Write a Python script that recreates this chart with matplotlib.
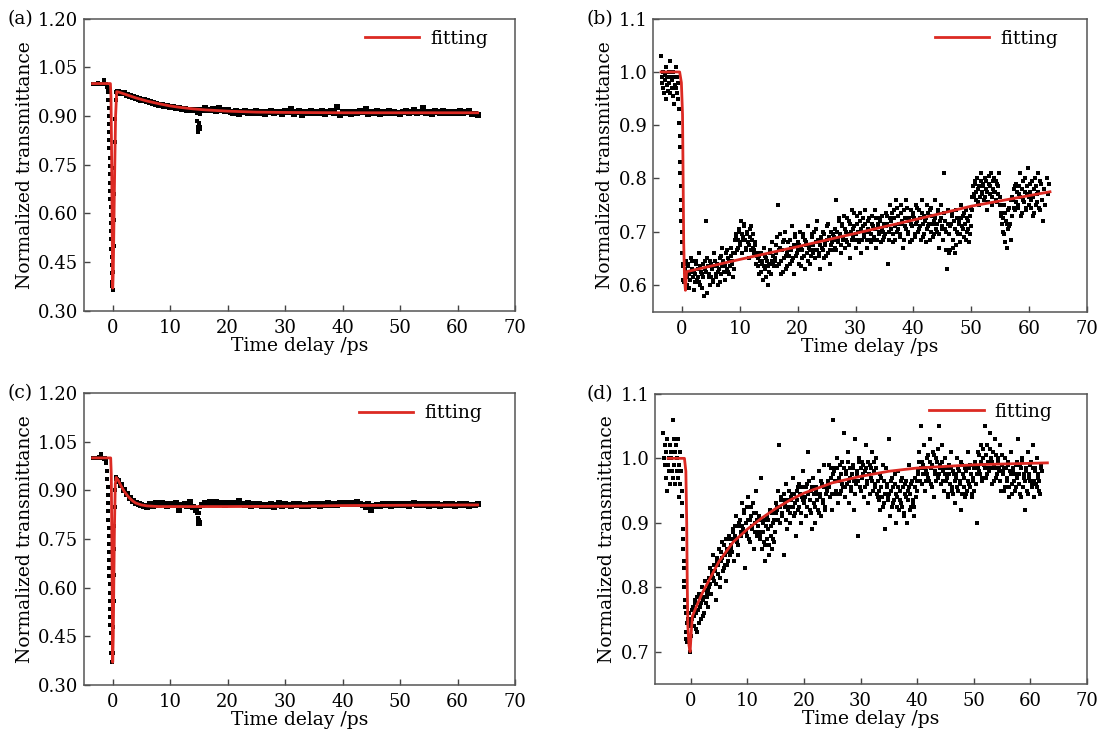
"""
Normalized transmittance vs time delay, four panels (a)-(d)
"""

import numpy as np
import matplotlib
matplotlib.use("Agg")
import matplotlib.pyplot as plt
from matplotlib.ticker import FormatStrFormatter

plt.rcParams['font.family'] = ['DejaVu Serif']

RED = '#dc2a23'

# ---------------- panel (a) / (c): dense traces -----------------
t_dense = [
    1.0, 1.5, 2.0, 2.5, 3.0, 3.5, 4.0, 4.5, 5.0, 5.5,
    6.0, 6.5, 7.0, 7.5, 8.0, 8.5, 9.0, 9.5, 10.0, 10.5,
    11.0, 11.5, 12.0, 12.5, 13.0, 13.5, 14.0, 14.5, 15.0, 15.5,
    16.0, 16.5, 17.0, 17.5, 18.0, 18.5, 19.0, 19.5, 20.0, 20.5,
    21.0, 21.5, 22.0, 22.5, 23.0, 23.5, 24.0, 24.5, 25.0, 25.5,
    26.0, 26.5, 27.0, 27.5, 28.0, 28.5, 29.0, 29.5, 30.0, 30.5,
    31.0, 31.5, 32.0, 32.5, 33.0, 33.5, 34.0, 34.5, 35.0, 35.5,
    36.0, 36.5, 37.0, 37.5, 38.0, 38.5, 39.0, 39.5, 40.0, 40.5,
    41.0, 41.5, 42.0, 42.5, 43.0, 43.5, 44.0, 44.5, 45.0, 45.5,
    46.0, 46.5, 47.0, 47.5, 48.0, 48.5, 49.0, 49.5, 50.0, 50.5,
    51.0, 51.5, 52.0, 52.5, 53.0, 53.5, 54.0, 54.5, 55.0, 55.5,
    56.0, 56.5, 57.0, 57.5, 58.0, 58.5, 59.0, 59.5, 60.0, 60.5,
    61.0, 61.5, 62.0, 62.5, 63.0, 63.5,
]

a_y = [
    0.975, 0.972, 0.970, 0.966, 0.963, 0.960, 0.957, 0.953, 0.950,
    0.948, 0.945, 0.943, 0.940, 0.938, 0.935, 0.934, 0.931, 0.930, 0.928,
    0.927, 0.925, 0.924, 0.922, 0.921, 0.920, 0.919, 0.918,
    0.918, 0.862,
    0.918, 0.925, 0.920, 0.917, 0.922, 0.915, 0.926, 0.918, 0.914, 0.920,
    0.912, 0.910, 0.915, 0.905, 0.912, 0.914, 0.908, 0.913, 0.910, 0.916,
    0.909, 0.913, 0.907, 0.912, 0.915, 0.909, 0.913, 0.911, 0.906, 0.914,
    0.912, 0.923, 0.905, 0.911, 0.914, 0.903, 0.913, 0.910, 0.915, 0.908,
    0.912, 0.909, 0.914, 0.906, 0.912, 0.916, 0.909, 0.927, 0.903, 0.911,
    0.910, 0.913, 0.905, 0.912, 0.909, 0.915, 0.911, 0.921, 0.907, 0.912,
    0.910, 0.914, 0.906, 0.912, 0.909, 0.915, 0.908, 0.912, 0.910, 0.906,
    0.911, 0.914, 0.908, 0.912, 0.917, 0.909, 0.913, 0.926, 0.910, 0.912,
    0.907, 0.914, 0.911, 0.909, 0.915, 0.910, 0.913, 0.908, 0.912, 0.910,
    0.914, 0.909, 0.911, 0.916, 0.906, 0.905, 0.903,
]

# before zero, fast drop, rise, and the glitch near 15 ps
a_t_early = [
    -3.5, -3.2, -2.9, -2.6, -2.3, -2.0, -1.8, -1.6, -1.5, -1.4, -1.2, -1.0, -0.9, -0.8,
    -0.75, -0.72, -0.70, -0.67, -0.64, -0.61, -0.58, -0.55, -0.52, -0.49, -0.46, -0.43,
    -0.40, -0.37, -0.34, -0.31, -0.28, -0.25, -0.22, -0.19, -0.16, -0.12, -0.08, -0.04, 0.0,
    0.1, 0.15, 0.2, 0.25, 0.3, 0.35, 0.4, 0.5, 0.6, 0.8,
    14.6, 14.7, 14.8, 14.9, 15.0, 15.1, 15.2,
]
a_y_early = [
    1.000, 0.999, 1.000, 1.001, 0.998, 1.000, 1.000, 1.003, 1.012, 1.000, 0.998, 0.990, 0.985, 0.975,
    0.950, 0.925, 0.900, 0.875, 0.850, 0.825, 0.800, 0.770, 0.745, 0.720, 0.695, 0.670,
    0.645, 0.620, 0.595, 0.570, 0.545, 0.520, 0.490, 0.465, 0.440, 0.415, 0.390, 0.375, 0.365,
    0.42, 0.50, 0.58, 0.66, 0.74, 0.82, 0.89, 0.95, 0.975, 0.978,
    0.910, 0.885, 0.865, 0.850, 0.860, 0.880, 0.905,
]

fit_a_t = [-3.5, -0.4, -0.3, -0.2, -0.1, 0.0, 0.1, 0.3, 0.5, 0.7, 1.0, 2.0, 3.0, 4.0,
           5.0, 6.0, 8.0, 10.0, 12.0, 14.0, 16.0, 18.0, 20.0, 25.0, 30.0, 40.0, 50.0, 63.5]
fit_a_y = [1.0, 1.0, 0.96, 0.80, 0.58, 0.37, 0.42, 0.68, 0.90, 0.975, 0.974, 0.968, 0.962, 0.956,
           0.951, 0.946, 0.938, 0.931, 0.926, 0.922, 0.919, 0.917, 0.915, 0.912, 0.911, 0.910, 0.910, 0.910]

c_y = [
    0.930, 0.915, 0.900, 0.888, 0.876, 0.868, 0.862, 0.857, 0.855,
    0.852, 0.850, 0.858, 0.853, 0.860, 0.855, 0.862, 0.857, 0.853, 0.859,
    0.856, 0.861, 0.840, 0.855, 0.858, 0.852, 0.864, 0.850,
    0.840, 0.800,
    0.855, 0.860, 0.857, 0.863, 0.859, 0.865, 0.858, 0.862, 0.856, 0.860,
    0.857, 0.862, 0.859, 0.866, 0.858, 0.855, 0.860, 0.852, 0.857, 0.854,
    0.858, 0.851, 0.856, 0.853, 0.857, 0.850, 0.855, 0.862, 0.853, 0.857,
    0.855, 0.852, 0.857, 0.854, 0.858, 0.851, 0.856, 0.853, 0.859, 0.855,
    0.857, 0.852, 0.858, 0.854, 0.860, 0.856, 0.859, 0.855, 0.861, 0.857,
    0.860, 0.858, 0.862, 0.857, 0.865, 0.859, 0.855, 0.850, 0.857, 0.840,
    0.853, 0.856, 0.852, 0.858, 0.854, 0.857, 0.853, 0.859, 0.855, 0.857,
    0.855, 0.858, 0.853, 0.857, 0.860, 0.854, 0.858, 0.855, 0.859, 0.853,
    0.857, 0.855, 0.858, 0.852, 0.856, 0.859, 0.854, 0.857, 0.853, 0.856,
    0.857, 0.854, 0.858, 0.853, 0.856, 0.855, 0.857,
]

c_t_early = [
    -3.5, -3.2, -2.9, -2.6, -2.3, -2.0, -1.8, -1.6, -1.4, -1.2, -1.15,
    -1.1, -1.0, -0.95, -0.9, -0.85, -0.8, -0.78, -0.75, -0.72, -0.7, -0.68, -0.65,
    -0.62, -0.6, -0.58, -0.55, -0.52, -0.5, -0.47, -0.44, -0.4, -0.35, -0.3, -0.22, -0.12,
    0.05, 0.1, 0.15, 0.2, 0.25, 0.3, 0.35, 0.4, 0.5, 0.6, 0.8,
    14.6, 14.7, 14.8, 14.9, 15.0, 15.1, 15.2,
]
c_y_early = [
    1.000, 1.000, 0.999, 1.000, 1.003, 1.012, 1.000, 0.998, 1.000, 0.995, 0.990,
    0.985, 0.960, 0.935, 0.910, 0.885, 0.860, 0.835, 0.810, 0.785, 0.760, 0.735, 0.710,
    0.685, 0.660, 0.635, 0.610, 0.585, 0.560, 0.535, 0.510, 0.485, 0.460, 0.430, 0.400, 0.370,
    0.40, 0.48, 0.56, 0.64, 0.72, 0.79, 0.85, 0.90, 0.935, 0.94, 0.935,
    0.845, 0.830, 0.815, 0.800, 0.810, 0.830, 0.848,
]

fit_c_t = [-3.5, -0.35, -0.25, -0.15, -0.05, 0.0, 0.1, 0.2, 0.3, 0.45, 0.6, 1.0, 1.5, 2.0,
           2.5, 3.0, 3.5, 4.0, 5.0, 6.0, 8.0, 10.0, 20.0, 30.0, 40.0, 50.0, 63.5]
fit_c_y = [1.0, 1.0, 0.95, 0.75, 0.50, 0.37, 0.45, 0.62, 0.78, 0.92, 0.94, 0.93, 0.912, 0.897,
           0.885, 0.875, 0.867, 0.861, 0.855, 0.852, 0.850, 0.850, 0.850, 0.851, 0.853, 0.854, 0.855]

# ---------------- panel (b) / (d): noisy traces -----------------
t_grid = [
    0.2, 0.4, 0.6, 0.8, 1.0, 1.2, 1.4, 1.6, 1.8, 2.0,
    2.2, 2.4, 2.6, 2.8, 3.0, 3.2, 3.4, 3.6, 3.8, 4.0,
    4.2, 4.4, 4.6, 4.8, 5.0, 5.2, 5.4, 5.6, 5.8, 6.0,
    6.2, 6.4, 6.6, 6.8, 7.0, 7.2, 7.4, 7.6, 7.8, 8.0,
    8.2, 8.4, 8.6, 8.8, 9.0, 9.2, 9.4, 9.6, 9.8, 10.0,
    10.2, 10.4, 10.6, 10.8, 11.0, 11.2, 11.4, 11.6, 11.8, 12.0,
    12.2, 12.4, 12.6, 12.8, 13.0, 13.2, 13.4, 13.6, 13.8, 14.0,
    14.2, 14.4, 14.6, 14.8, 15.0, 15.2, 15.4, 15.6, 15.8, 16.0,
    16.2, 16.4, 16.6, 16.8, 17.0, 17.2, 17.4, 17.6, 17.8, 18.0,
    18.2, 18.4, 18.6, 18.8, 19.0, 19.2, 19.4, 19.6, 19.8, 20.0,
    20.2, 20.4, 20.6, 20.8, 21.0, 21.2, 21.4, 21.6, 21.8, 22.0,
    22.2, 22.4, 22.6, 22.8, 23.0, 23.2, 23.4, 23.6, 23.8, 24.0,
    24.2, 24.4, 24.6, 24.8, 25.0, 25.2, 25.4, 25.6, 25.8, 26.0,
    26.2, 26.4, 26.6, 26.8, 27.0, 27.2, 27.4, 27.6, 27.8, 28.0,
    28.2, 28.4, 28.6, 28.8, 29.0, 29.2, 29.4, 29.6, 29.8, 30.0,
    30.2, 30.4, 30.6, 30.8, 31.0, 31.2, 31.4, 31.6, 31.8, 32.0,
    32.2, 32.4, 32.6, 32.8, 33.0, 33.2, 33.4, 33.6, 33.8, 34.0,
    34.2, 34.4, 34.6, 34.8, 35.0, 35.2, 35.4, 35.6, 35.8, 36.0,
    36.2, 36.4, 36.6, 36.8, 37.0, 37.2, 37.4, 37.6, 37.8, 38.0,
    38.2, 38.4, 38.6, 38.8, 39.0, 39.2, 39.4, 39.6, 39.8, 40.0,
    40.2, 40.4, 40.6, 40.8, 41.0, 41.2, 41.4, 41.6, 41.8, 42.0,
    42.2, 42.4, 42.6, 42.8, 43.0, 43.2, 43.4, 43.6, 43.8, 44.0,
    44.2, 44.4, 44.6, 44.8, 45.0, 45.2, 45.4, 45.6, 45.8, 46.0,
    46.2, 46.4, 46.6, 46.8, 47.0, 47.2, 47.4, 47.6, 47.8, 48.0,
    48.2, 48.4, 48.6, 48.8, 49.0, 49.2, 49.4, 49.6, 49.8, 50.0,
    50.2, 50.4, 50.6, 50.8, 51.0, 51.2, 51.4, 51.6, 51.8, 52.0,
    52.2, 52.4, 52.6, 52.8, 53.0, 53.2, 53.4, 53.6, 53.8, 54.0,
    54.2, 54.4, 54.6, 54.8, 55.0, 55.2, 55.4, 55.6, 55.8, 56.0,
    56.2, 56.4, 56.6, 56.8, 57.0, 57.2, 57.4, 57.6, 57.8, 58.0,
    58.2, 58.4, 58.6, 58.8, 59.0, 59.2, 59.4, 59.6, 59.8, 60.0,
    60.2, 60.4, 60.6, 60.8, 61.0, 61.2, 61.4, 61.6, 61.8, 62.0,
]

# second interleaved sweep of delays
t_grid2 = [
    0.1, 0.3, 0.5, 0.7, 0.9, 1.1, 1.3, 1.5, 1.7, 1.9,
    2.1, 2.3, 2.5, 2.7, 2.9, 3.1, 3.3, 3.5, 3.7, 3.9,
    4.1, 4.3, 4.5, 4.7, 4.9, 5.1, 5.3, 5.5, 5.7, 5.9,
    6.1, 6.3, 6.5, 6.7, 6.9, 7.1, 7.3, 7.5, 7.7, 7.9,
    8.1, 8.3, 8.5, 8.7, 8.9, 9.1, 9.3, 9.5, 9.7, 9.9,
    10.1, 10.3, 10.5, 10.7, 10.9, 11.1, 11.3, 11.5, 11.7, 11.9,
    12.1, 12.3, 12.5, 12.7, 12.9, 13.1, 13.3, 13.5, 13.7, 13.9,
    14.1, 14.3, 14.5, 14.7, 14.9, 15.1, 15.3, 15.5, 15.7, 15.9,
    16.1, 16.3, 16.5, 16.7, 16.9, 17.1, 17.3, 17.5, 17.7, 17.9,
    18.1, 18.3, 18.5, 18.7, 18.9, 19.1, 19.3, 19.5, 19.7, 19.9,
    20.1, 20.3, 20.5, 20.7, 20.9, 21.1, 21.3, 21.5, 21.7, 21.9,
    22.1, 22.3, 22.5, 22.7, 22.9, 23.1, 23.3, 23.5, 23.7, 23.9,
    24.1, 24.3, 24.5, 24.7, 24.9, 25.1, 25.3, 25.5, 25.7, 25.9,
    26.1, 26.3, 26.5, 26.7, 26.9, 27.1, 27.3, 27.5, 27.7, 27.9,
    28.1, 28.3, 28.5, 28.7, 28.9, 29.1, 29.3, 29.5, 29.7, 29.9,
    30.1, 30.3, 30.5, 30.7, 30.9, 31.1, 31.3, 31.5, 31.7, 31.9,
    32.1, 32.3, 32.5, 32.7, 32.9, 33.1, 33.3, 33.5, 33.7, 33.9,
    34.1, 34.3, 34.5, 34.7, 34.9, 35.1, 35.3, 35.5, 35.7, 35.9,
    36.1, 36.3, 36.5, 36.7, 36.9, 37.1, 37.3, 37.5, 37.7, 37.9,
    38.1, 38.3, 38.5, 38.7, 38.9, 39.1, 39.3, 39.5, 39.7, 39.9,
    40.1, 40.3, 40.5, 40.7, 40.9, 41.1, 41.3, 41.5, 41.7, 41.9,
    42.1, 42.3, 42.5, 42.7, 42.9, 43.1, 43.3, 43.5, 43.7, 43.9,
    44.1, 44.3, 44.5, 44.7, 44.9, 45.1, 45.3, 45.5, 45.7, 45.9,
    46.1, 46.3, 46.5, 46.7, 46.9, 47.1, 47.3, 47.5, 47.7, 47.9,
    48.1, 48.3, 48.5, 48.7, 48.9, 49.1, 49.3, 49.5, 49.7, 49.9,
    50.1, 50.3, 50.5, 50.7, 50.9, 51.1, 51.3, 51.5, 51.7, 51.9,
    52.1, 52.3, 52.5, 52.7, 52.9, 53.1, 53.3, 53.5, 53.7, 53.9,
    54.1, 54.3, 54.5, 54.7, 54.9, 55.1, 55.3, 55.5, 55.7, 55.9,
    56.1, 56.3, 56.5, 56.7, 56.9, 57.1, 57.3, 57.5, 57.7, 57.9,
    58.1, 58.3, 58.5, 58.7, 58.9, 59.1, 59.3, 59.5, 59.7, 59.9,
    60.1, 60.3, 60.5, 60.7, 60.9, 61.1, 61.3, 61.5, 61.7, 61.9,
]

b_y = [
    0.61, 0.64, 0.63, 0.60, 0.64, 0.62, 0.61, 0.65, 0.63, 0.59,
    0.62, 0.64, 0.61, 0.63, 0.66, 0.60, 0.62, 0.64, 0.58, 0.63,
    0.72, 0.65, 0.62, 0.60, 0.64, 0.63, 0.61, 0.66, 0.62, 0.64,
    0.60, 0.63, 0.65, 0.62, 0.67, 0.64, 0.61, 0.66, 0.63, 0.65,
    0.62, 0.67, 0.64, 0.66, 0.63, 0.66, 0.69, 0.67, 0.70, 0.68,
    0.72, 0.66, 0.69, 0.71, 0.67, 0.70, 0.68, 0.65, 0.69, 0.71,
    0.67, 0.66, 0.68, 0.64, 0.66, 0.65, 0.62, 0.66, 0.64, 0.61,
    0.67, 0.63, 0.65, 0.60, 0.64, 0.66, 0.62, 0.68, 0.64, 0.65,
    0.66, 0.69, 0.75, 0.64, 0.67, 0.62, 0.68, 0.65, 0.70, 0.63,
    0.66, 0.68, 0.64, 0.67, 0.71, 0.65, 0.62, 0.69, 0.66, 0.68,
    0.64, 0.70, 0.67, 0.65, 0.69, 0.63, 0.68, 0.66, 0.71, 0.67,
    0.64, 0.69, 0.66, 0.70, 0.65, 0.68, 0.72, 0.66, 0.63, 0.69,
    0.67, 0.70, 0.65, 0.68, 0.71, 0.66, 0.69, 0.64, 0.70, 0.68,
    0.69, 0.67, 0.76, 0.70, 0.68, 0.72, 0.66, 0.71, 0.69, 0.73,
    0.67, 0.70, 0.68, 0.72, 0.65, 0.70, 0.74, 0.69, 0.71, 0.67,
    0.73, 0.70, 0.68, 0.72, 0.66, 0.71, 0.69, 0.74, 0.70, 0.67,
    0.72, 0.70, 0.68, 0.73, 0.71, 0.69, 0.74, 0.67, 0.71, 0.70,
    0.72, 0.68, 0.73, 0.70, 0.69, 0.71, 0.73, 0.64, 0.70, 0.75,
    0.72, 0.68, 0.74, 0.71, 0.76, 0.70, 0.73, 0.69, 0.75, 0.72,
    0.67, 0.74, 0.71, 0.76, 0.70, 0.72, 0.68, 0.74, 0.71, 0.73,
    0.69, 0.75, 0.72, 0.70, 0.74, 0.71, 0.76, 0.69, 0.73, 0.72,
    0.68, 0.75, 0.71, 0.74, 0.70, 0.73, 0.69, 0.72, 0.76, 0.70,
    0.74, 0.67, 0.72, 0.75, 0.71, 0.81, 0.72, 0.70, 0.63, 0.74,
    0.66, 0.71, 0.73, 0.67, 0.72, 0.66, 0.74, 0.70, 0.72, 0.68,
    0.75, 0.71, 0.73, 0.69, 0.74, 0.70, 0.72, 0.68, 0.73, 0.71,
    0.74, 0.77, 0.79, 0.76, 0.80, 0.78, 0.75, 0.81, 0.77, 0.79,
    0.76, 0.80, 0.78, 0.74, 0.79, 0.77, 0.81, 0.75, 0.78, 0.80,
    0.76, 0.79, 0.77, 0.81, 0.75, 0.73, 0.70, 0.75, 0.68, 0.72,
    0.67, 0.74, 0.71, 0.76, 0.73, 0.76, 0.78, 0.74, 0.79, 0.75,
    0.77, 0.81, 0.73, 0.78, 0.76, 0.80, 0.74, 0.77, 0.82, 0.75,
    0.79, 0.76, 0.73, 0.78, 0.80, 0.75, 0.77, 0.81, 0.74, 0.79,
]

b_y2 = [
    0.635, 0.605, 0.625, 0.645, 0.615, 0.635, 0.595, 0.625, 0.645, 0.615,
    0.625, 0.605, 0.645, 0.615, 0.605, 0.635, 0.625, 0.595, 0.615, 0.645,
    0.625, 0.585, 0.635, 0.615, 0.645, 0.615, 0.605, 0.635, 0.645, 0.615,
    0.635, 0.625, 0.605, 0.655, 0.635, 0.645, 0.625, 0.635, 0.665, 0.625,
    0.645, 0.635, 0.655, 0.645, 0.615, 0.685, 0.695, 0.665, 0.685, 0.705,
    0.675, 0.695, 0.685, 0.715, 0.685, 0.665, 0.695, 0.675, 0.705, 0.665,
    0.685, 0.695, 0.665, 0.675, 0.655, 0.635, 0.655, 0.645, 0.625, 0.645,
    0.635, 0.655, 0.615, 0.645, 0.635, 0.625, 0.665, 0.645, 0.655, 0.635,
    0.645, 0.675, 0.635, 0.665, 0.695, 0.645, 0.665, 0.625, 0.685, 0.655,
    0.635, 0.665, 0.655, 0.685, 0.665, 0.645, 0.675, 0.695, 0.655, 0.675,
    0.665, 0.675, 0.635, 0.665, 0.695, 0.655, 0.685, 0.675, 0.645, 0.675,
    0.665, 0.655, 0.695, 0.675, 0.665, 0.705, 0.665, 0.685, 0.655, 0.675,
    0.685, 0.665, 0.695, 0.675, 0.655, 0.685, 0.715, 0.665, 0.675, 0.665,
    0.695, 0.685, 0.705, 0.665, 0.685, 0.725, 0.695, 0.675, 0.715, 0.685,
    0.705, 0.685, 0.725, 0.695, 0.675, 0.715, 0.685, 0.705, 0.735, 0.685,
    0.695, 0.715, 0.685, 0.735, 0.705, 0.685, 0.725, 0.695, 0.715, 0.685,
    0.705, 0.725, 0.685, 0.695, 0.715, 0.685, 0.705, 0.725, 0.685, 0.715,
    0.695, 0.725, 0.705, 0.685, 0.715, 0.695, 0.735, 0.715, 0.685, 0.725,
    0.705, 0.735, 0.695, 0.725, 0.685, 0.745, 0.705, 0.715, 0.695, 0.735,
    0.715, 0.685, 0.725, 0.705, 0.745, 0.695, 0.725, 0.715, 0.685, 0.735,
    0.725, 0.695, 0.715, 0.745, 0.705, 0.725, 0.685, 0.735, 0.715, 0.695,
    0.725, 0.705, 0.735, 0.715, 0.685, 0.745, 0.715, 0.695, 0.725, 0.705,
    0.715, 0.735, 0.695, 0.725, 0.705, 0.685, 0.735, 0.705, 0.665, 0.715,
    0.695, 0.665, 0.715, 0.735, 0.685, 0.705, 0.675, 0.725, 0.695, 0.715,
    0.695, 0.725, 0.705, 0.735, 0.715, 0.685, 0.725, 0.705, 0.695, 0.745,
    0.765, 0.785, 0.765, 0.795, 0.775, 0.755, 0.785, 0.765, 0.795, 0.775,
    0.785, 0.765, 0.795, 0.775, 0.755, 0.805, 0.785, 0.765, 0.795, 0.775,
    0.775, 0.795, 0.755, 0.785, 0.765, 0.735, 0.715, 0.725, 0.695, 0.735,
    0.715, 0.705, 0.745, 0.715, 0.685, 0.765, 0.745, 0.785, 0.755, 0.775,
    0.745, 0.785, 0.765, 0.735, 0.795, 0.755, 0.775, 0.745, 0.785, 0.765,
    0.775, 0.745, 0.795, 0.765, 0.735, 0.785, 0.755, 0.775, 0.745, 0.795,
]

b_t_extra = [
    -3.6, -3.5, -3.4, -3.3, -3.2, -3.1, -3.0, -2.9, -2.8, -2.7,
    -2.6, -2.5, -2.4, -2.3, -2.2, -2.1, -2.0, -1.9, -1.8, -1.7,
    -1.6, -1.5, -1.4, -1.3, -1.2, -1.1, -1.0, -0.9, -0.8, -0.7,
    -0.6, -0.5, -0.45, -0.4, -0.35, -0.3, -0.28, -0.25, -0.2, -0.15,
    -0.1, -0.05, 0.0, 0.05, 0.1, 0.15,
    62.2, 62.4, 62.6, 62.8, 63.0, 63.2, 63.4,
]
b_y_extra = [
    1.03, 0.98, 0.99, 0.97, 1.00, 0.96, 0.995, 0.985, 0.95, 1.01,
    0.975, 0.99, 0.965, 1.00, 0.98, 0.96, 1.02, 0.99, 0.97, 0.985,
    1.00, 0.955, 0.94, 0.99, 0.975, 1.01, 0.97, 0.96, 0.99, 0.98,
    0.95, 0.93, 0.905, 0.88, 0.86, 0.83, 0.81, 0.785, 0.76, 0.74,
    0.72, 0.70, 0.68, 0.66, 0.64, 0.61,
    0.76, 0.72, 0.78, 0.75, 0.80, 0.77, 0.79,
]

fit_b_t = [-3.6, -0.4, -0.1, 0.1, 0.2, 0.3, 0.45, 0.6, 0.8, 10.0, 20.0, 30.0, 40.0, 50.0, 63.6]
fit_b_y = [1.0, 1.0, 0.98, 0.92, 0.80, 0.68, 0.61, 0.59, 0.625, 0.648, 0.672, 0.697, 0.722, 0.748, 0.775]

d_y = [
    # 0.2 - 3.0
    0.75, 0.77, 0.74, 0.78, 0.76, 0.73, 0.79, 0.77, 0.75, 0.80, 0.78, 0.76, 0.81, 0.79, 0.77,
    # 3.2 - 7.0
    0.80, 0.83, 0.79, 0.82, 0.85, 0.81, 0.78, 0.84, 0.82, 0.86,
    0.80, 0.84, 0.87, 0.83, 0.85, 0.81, 0.86, 0.84, 0.88, 0.85,
    # 7.2 - 9.0
    0.86, 0.89, 0.84, 0.88, 0.91, 0.87, 0.85, 0.90, 0.88, 0.93,
    # 9.2 - 12.0
    0.89, 0.92, 0.83, 0.90, 0.88, 0.94, 0.87, 0.91, 0.89, 0.93, 0.86, 0.90, 0.95, 0.88, 0.91,
    # 12.2 - 15.0
    0.88, 0.97, 0.86, 0.90, 0.87, 0.84, 0.91, 0.89, 0.85, 0.92, 0.88, 0.86, 0.90, 0.87, 0.93,
    # 15.2 - 20.0
    0.92, 0.95, 1.02, 0.90, 0.94, 0.91, 0.85, 0.93, 0.96, 0.89,
    0.92, 0.95, 0.90, 0.94, 0.97, 0.91, 0.93, 0.88, 0.95, 0.92,
    0.96, 0.90, 0.94, 0.98, 0.93,
    # 20.2 - 24.0
    0.94, 0.91, 0.96, 1.01, 0.92, 0.95, 0.89, 0.97, 0.93, 0.90,
    0.95, 0.92, 0.98, 0.94, 0.91, 0.96, 0.93, 0.99, 0.92, 0.95,
    # 24.2 - 33.0
    0.96, 0.99, 0.94, 0.97, 0.92, 1.06, 0.98, 0.95, 1.00, 0.93,
    0.97, 0.99, 0.95, 0.96, 1.04, 0.94, 0.98, 0.96, 1.01, 0.93,
    0.97, 0.95, 0.99, 0.92, 1.03, 0.96, 0.98, 0.88, 1.00, 0.95,
    0.97, 0.99, 0.94, 0.98, 1.02, 0.96, 0.93, 0.99, 0.97, 1.01,
    0.95, 0.98, 0.96, 1.00, 0.94,
    # 33.2 - 40.0
    0.95, 0.92, 0.97, 0.94, 0.99, 0.93, 0.89, 0.96, 0.94, 1.03,
    0.91, 0.95, 0.97, 0.93, 0.96, 0.90, 0.94, 0.98, 0.92, 0.95,
    0.93, 0.97, 0.91, 0.96, 0.94, 0.90, 0.95, 0.99, 0.92, 0.96,
    0.93, 0.91, 0.97, 0.94, 0.95,
    # 40.2 - 45.0
    0.98, 1.01, 1.05, 0.96, 0.99, 1.02, 0.95, 0.98, 1.00, 0.97,
    1.03, 0.96, 0.99, 1.01, 0.94, 0.98, 1.00, 0.97, 1.05, 0.99,
    0.96, 1.02, 0.98, 0.95, 1.00,
    # 45.2 - 50.0
    0.97, 0.94, 0.99, 0.96, 1.01, 0.95, 0.98, 0.93, 0.97, 1.00,
    0.95, 0.98, 0.96, 0.92, 0.99, 0.97, 0.94, 0.98, 0.95, 1.01,
    0.96, 0.99, 0.94, 0.97, 0.95,
    # 50.2 - 55.0
    0.99, 0.96, 0.90, 1.01, 0.98, 1.02, 0.97, 1.00, 0.99, 1.05,
    0.97, 1.02, 0.98, 1.04, 1.00, 0.96, 1.01, 0.99, 1.03, 0.97,
    1.00, 0.98, 1.02, 0.95, 0.99,
    # 55.2 - 62.0
    0.98, 0.95, 1.00, 0.97, 0.99, 0.94, 0.98, 1.01, 0.96, 0.98,
    0.95, 0.99, 0.97, 1.03, 0.96, 0.99, 0.94, 1.00, 0.97, 0.92,
    0.98, 0.95, 1.01, 0.97, 0.99, 0.96, 1.02, 0.94, 0.98, 0.96,
    1.00, 0.97, 0.95, 0.99, 0.98,
]

d_y2 = [
    # 0.1 - 2.9
    0.745, 0.765, 0.755, 0.775, 0.735, 0.785, 0.765, 0.745, 0.785, 0.775,
    0.755, 0.785, 0.795, 0.775, 0.785,
    # 3.1 - 6.9
    0.795, 0.815, 0.805, 0.825, 0.815, 0.835, 0.825, 0.805, 0.845, 0.835,
    0.815, 0.855, 0.845, 0.825, 0.865, 0.835, 0.875, 0.835, 0.855, 0.875,
    # 7.1 - 8.9
    0.865, 0.855, 0.885, 0.875, 0.895, 0.875, 0.865, 0.895, 0.905, 0.885,
    # 9.1 - 11.9
    0.895, 0.885, 0.915, 0.885, 0.925, 0.905, 0.875, 0.905, 0.925, 0.895,
    0.915, 0.885, 0.915, 0.905, 0.895,
    # 12.1 - 14.9
    0.885, 0.875, 0.905, 0.885, 0.905, 0.865, 0.895, 0.875, 0.905, 0.865,
    0.895, 0.915, 0.875, 0.905, 0.885,
    # 15.1 - 19.9
    0.915, 0.925, 0.905, 0.925, 0.935, 0.915, 0.935, 0.945, 0.925, 0.905,
    0.935, 0.925, 0.915, 0.935, 0.945, 0.925, 0.945, 0.915, 0.935, 0.955,
    0.925, 0.945, 0.915, 0.955, 0.935,
    # 20.1 - 23.9
    0.935, 0.955, 0.925, 0.945, 0.965, 0.935, 0.915, 0.955, 0.945, 0.925,
    0.955, 0.935, 0.945, 0.915, 0.945, 0.965, 0.935, 0.955, 0.925, 0.945,
    # 24.1 - 32.9
    0.955, 0.965, 0.955, 0.985, 0.945, 0.975, 0.985, 0.965, 0.945, 0.985,
    0.965, 0.945, 0.975, 0.995, 0.955, 0.985, 0.955, 0.975, 0.995, 0.965,
    0.985, 0.955, 0.975, 0.985, 0.965, 0.945, 0.975, 0.965, 0.995, 0.955,
    0.985, 0.995, 0.975, 0.955, 0.985, 0.965, 0.995, 0.975, 0.945, 0.985,
    0.965, 0.995, 0.955, 0.985, 0.945,
    # 33.1 - 39.9
    0.965, 0.935, 0.975, 0.955, 0.925, 0.965, 0.945, 0.985, 0.955, 0.935,
    0.945, 0.965, 0.925, 0.955, 0.935, 0.975, 0.945, 0.925, 0.955, 0.935,
    0.965, 0.925, 0.955, 0.915, 0.945, 0.965, 0.935, 0.955, 0.945, 0.925,
    0.965, 0.935, 0.925, 0.955, 0.965,
    # 40.1 - 44.9
    0.975, 0.995, 0.965, 0.985, 0.995, 0.975, 0.985, 0.965, 0.975, 1.005,
    0.965, 0.995, 0.985, 0.955, 1.005, 0.975, 0.965, 0.995, 1.015, 0.975,
    0.985, 0.995, 0.965, 0.985, 0.975,
    # 45.1 - 49.9
    0.965, 0.985, 0.945, 0.975, 0.985, 0.955, 0.945, 0.975, 0.965, 0.975,
    0.955, 0.985, 0.965, 0.995, 0.945, 0.975, 0.955, 0.985, 0.945, 0.965,
    0.985, 0.955, 0.975, 0.945, 0.965,
    # 50.1 - 54.9
    0.985, 0.995, 0.975, 0.985, 1.005, 0.975, 0.995, 0.965, 1.015, 0.985,
    1.005, 0.975, 0.995, 0.985, 1.015, 0.985, 0.995, 0.965, 0.985, 1.005,
    0.975, 0.995, 0.985, 0.965, 1.005,
    # 55.1 - 61.9
    0.975, 0.985, 0.955, 0.985, 0.965, 0.995, 0.955, 0.975, 0.945, 0.985,
    0.965, 0.975, 0.955, 0.995, 0.975, 0.945, 0.985, 0.995, 0.955, 0.975,
    0.965, 0.985, 0.945, 0.975, 0.965, 0.995, 0.955, 0.985, 0.965, 0.985,
    0.955, 0.975, 0.965, 0.945, 0.985,
]

d_t_extra = [
    -4.8, -4.7, -4.6, -4.5, -4.4, -4.3, -4.2, -4.1, -4.0, -3.9,
    -3.8, -3.7, -3.6, -3.5, -3.4, -3.3, -3.2, -3.1, -3.0, -2.9,
    -2.8, -2.7, -2.6, -2.5, -2.4, -2.3, -2.2, -2.1, -2.0, -1.9,
    -1.8, -1.7, -1.6,
    -1.5, -1.45, -1.4, -1.35, -1.3, -1.25, -1.2, -1.15, -1.1, -1.05,
    -1.0, -0.9, -0.85, -0.8, -0.7, -0.6, -0.5, -0.4, -0.3, -0.2, -0.1, 0.0,
]
d_y_extra = [
    1.04, 1.00, 0.99, 1.02, 0.97, 1.01, 0.95, 1.03, 0.99, 1.00,
    0.98, 1.02, 0.96, 1.01, 1.00, 0.98, 1.06, 0.97, 1.03, 0.99,
    1.01, 0.96, 1.02, 0.98, 1.00, 0.97, 1.03, 0.94, 0.99, 1.01,
    0.96, 0.98, 0.95,
    0.93, 0.91, 0.89, 0.875, 0.86, 0.84, 0.83, 0.81, 0.80, 0.78,
    0.77, 0.76, 0.73, 0.72, 0.745, 0.715, 0.75, 0.72, 0.76, 0.70, 0.74, 0.725,
]

fit_d_t = [-4.0, -1.1, -0.85, -0.7, -0.6, -0.5, -0.3, -0.1, 0.1, 0.3, 1.0, 2.0, 3.5,
           5.0, 7.5, 10.0, 12.5, 15.0, 17.5, 20.0, 25.0, 30.0, 35.0, 40.0, 50.0, 63.0]
fit_d_y = [1.0, 1.0, 0.98, 0.90, 0.80, 0.74, 0.71, 0.70, 0.73, 0.755, 0.77, 0.79, 0.815,
           0.84, 0.87, 0.89, 0.907, 0.922, 0.935, 0.946, 0.962, 0.972, 0.980, 0.985, 0.990, 0.993]

x_ticks = [0, 10, 20, 30, 40, 50, 60, 70]
y_ticks_ac = [0.30, 0.45, 0.60, 0.75, 0.90, 1.05, 1.20]
y_ticks_b = [0.6, 0.7, 0.8, 0.9, 1.0, 1.1]
y_ticks_d = [0.7, 0.8, 0.9, 1.0, 1.1]


def style_axes(ax, xlim, ylim, yticks, yfmt, leg_anchor):
    ax.set_xlim(*xlim)
    ax.set_ylim(*ylim)
    ax.set_xticks(x_ticks)
    ax.set_yticks(yticks)
    ax.yaxis.set_major_formatter(FormatStrFormatter(yfmt))
    ax.tick_params(direction='in', length=4, width=1, colors='#444444',
                   labelcolor='black', labelsize=13, top=False, right=False)
    ax.tick_params(axis='x', pad=6)
    ax.tick_params(axis='y', pad=4)
    for sp in ax.spines.values():
        sp.set_color('#555555')
        sp.set_linewidth(1.1)
    ax.set_xlabel('Time delay /ps', fontsize=13.5, labelpad=0)
    ax.set_ylabel('Normalized transmittance', fontsize=13.5, labelpad=3)
    ax.legend(loc='center right', bbox_to_anchor=leg_anchor, frameon=False,
              fontsize=13.5, handlelength=2.9, handletextpad=0.6, borderpad=0.3)


fig = plt.figure(figsize=(10.99, 7.36), dpi=100)

ax_a = fig.add_axes([0.0764, 0.5777, 0.3922, 0.397])
ax_b = fig.add_axes([0.5942, 0.5766, 0.3949, 0.398])
ax_c = fig.add_axes([0.0764, 0.0693, 0.3922, 0.3967])
ax_d = fig.add_axes([0.5960, 0.0708, 0.3931, 0.394])

ms_noisy = 2.9
ms_dense = 3.8

# (a)
ax_a.plot(t_dense, a_y, 's', color='black', ms=ms_dense, mew=0)
ax_a.plot(a_t_early, a_y_early, 's', color='black', ms=2.7, mew=0)
ax_a.plot(fit_a_t, fit_a_y, '-', color=RED, lw=2.0, label='fitting')
style_axes(ax_a, (-5, 70), (0.30, 1.20), y_ticks_ac, '%.2f', (0.972, 0.931))

# (b)
ax_b.plot(t_grid, b_y, 's', color='black', ms=ms_noisy, mew=0)
ax_b.plot(t_grid2, b_y2, 's', color='black', ms=ms_noisy, mew=0)
ax_b.plot(b_t_extra, b_y_extra, 's', color='black', ms=ms_noisy, mew=0)
ax_b.plot(fit_b_t, fit_b_y, '-', color=RED, lw=2.0, label='fitting')
style_axes(ax_b, (-5, 70), (0.55, 1.10), y_ticks_b, '%.1f', (0.968, 0.931))

# (c)
ax_c.plot(t_dense, c_y, 's', color='black', ms=ms_dense, mew=0)
ax_c.plot(c_t_early, c_y_early, 's', color='black', ms=2.7, mew=0)
ax_c.plot(fit_c_t, fit_c_y, '-', color=RED, lw=2.0, label='fitting')
style_axes(ax_c, (-5, 70), (0.30, 1.20), y_ticks_ac, '%.2f', (0.958, 0.93))

# (d)
ax_d.plot(t_grid, d_y, 's', color='black', ms=ms_noisy, mew=0)
ax_d.plot(t_grid2, d_y2, 's', color='black', ms=ms_noisy, mew=0)
ax_d.plot(d_t_extra, d_y_extra, 's', color='black', ms=ms_noisy, mew=0)
ax_d.plot(fit_d_t, fit_d_y, '-', color=RED, lw=2.0, label='fitting')
style_axes(ax_d, (-6.3, 70), (0.65, 1.10), y_ticks_d, '%.1f', (0.955, 0.939))

for label, x, y in [('(a)', 0.007, 0.9747), ('(b)', 0.534, 0.9747),
                    ('(c)', 0.007, 0.466), ('(d)', 0.534, 0.4648)]:
    fig.text(x, y, label, fontsize=13.5, va='center', ha='left')

fig.savefig('out.png', dpi=100)
